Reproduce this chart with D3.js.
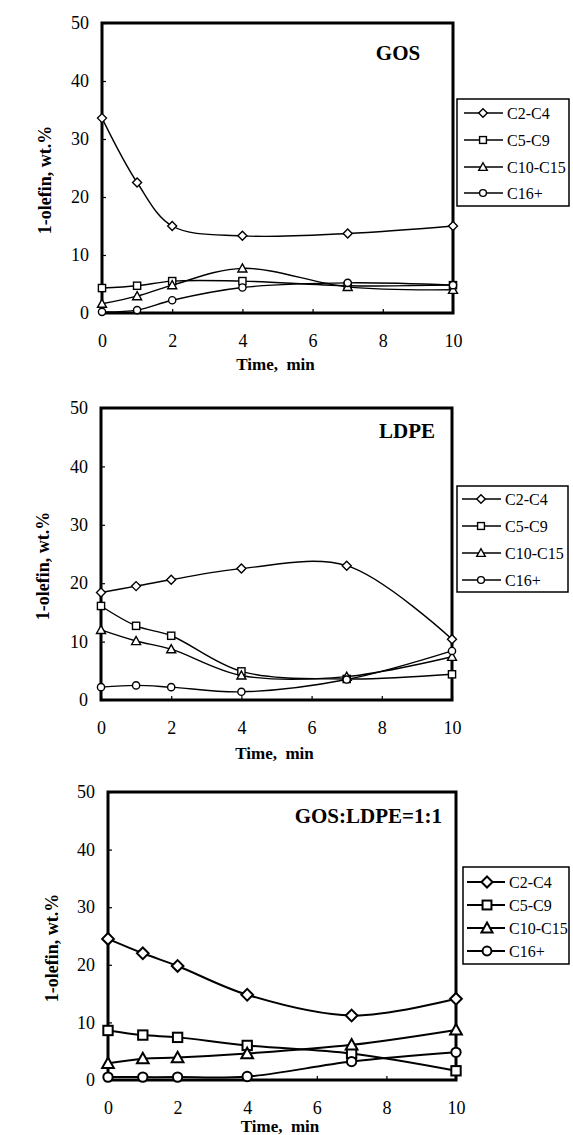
<!DOCTYPE html>
<html>
<head>
<meta charset="utf-8">
<script src="https://cdn.jsdelivr.net/npm/d3@7"></script>
<style>
  body { margin: 0; background: #fff; }
  svg { display: block; }
</style>
</head>
<body>
<div id="chart"></div>
<script>
// x values (minutes) and tick labels
var times = [0, 1, 2, 4, 7, 10]
var xTicks = [0, 2, 4, 6, 8, 10]
var yTicks = [0, 10, 20, 30, 40, 50]
var seriesNames = ["C2-C4", "C5-C9", "C10-C15", "C16+"]
var panelNames = ["GOS", "LDPE", "GOS:LDPE=1:1"]

// wt.% values, one row per series (C2-C4, C5-C9, C10-C15, C16+)
var gosValues = [
  [33.6, 22.5, 15.0, 13.3, 13.7, 15.0],
  [4.3, 4.7, 5.5, 5.5, 4.7, 4.8],
  [1.6, 2.9, 4.8, 7.7, 4.5, 4.0],
  [0.2, 0.5, 2.2, 4.4, 5.2, 4.8]
]
var ldpeValues = [
  [18.4, 19.5, 20.6, 22.5, 23.0, 10.4],
  [16.1, 12.7, 11.0, 4.9, 3.6, 4.4],
  [12.0, 10.1, 8.7, 4.2, 4.0, 7.4],
  [2.2, 2.5, 2.2, 1.4, 3.5, 8.4]
]
var mixValues = [
  [24.5, 22.0, 19.8, 14.8, 11.2, 14.1],
  [8.6, 7.8, 7.4, 6.0, 4.6, 1.6],
  [2.9, 3.7, 3.9, 4.6, 6.1, 8.7],
  [0.5, 0.5, 0.5, 0.6, 3.2, 4.8]
]
var allValues = [gosValues, ldpeValues, mixValues]

var serif = "'Liberation Serif', 'Times New Roman', Times, serif"

// layout for each panel (pixels)
var panels = [
  {left: 102, right: 453, top: 23, bottom: 313, yTitleX: 45, labelX: 398, labelY: 60, anchor: "middle",
   legend: {x: 457, y: 99, w: 112, h: 107, rows: [113, 140, 167, 193], lx: 464, mx: 483, tx: 507},
   lineW: 1.4, ms: 1, xTitleDy: 57},
  {left: 101, right: 452, top: 408, bottom: 700, yTitleX: 43, labelX: 407, labelY: 438, anchor: "middle",
   legend: {x: 457, y: 486, w: 111, h: 106, rows: [499, 526, 553, 580], lx: 462, mx: 481, tx: 505},
   lineW: 1.4, ms: 1, xTitleDy: 59},
  {left: 108, right: 456, top: 792, bottom: 1080, yTitleX: 52, labelX: 442, labelY: 823, anchor: "end",
   legend: {x: 463, y: 867, w: 106, h: 97, rows: [882, 905, 928, 951], lx: 467, mx: 487, tx: 509},
   lineW: 2, ms: 1.3, xTitleDy: 52}
]

var svg = d3.select("#chart")
  .append("svg")
  .attr("width", 573)
  .attr("height", 1135)

// marker shapes in order of the series
var drawMarker = function(g, idx, cx, cy, s)
{
  if (idx == 0) {
    var r = 4.5 * s
    g.append("path")
      .attr("d", "M" + cx + "," + (cy - r) + "L" + (cx + r) + "," + cy + "L" + cx + "," + (cy + r) + "L" + (cx - r) + "," + cy + "Z")
  } else if (idx == 1) {
    var h = 3.6 * s
    g.append("rect").attr("x", cx - h).attr("y", cy - h).attr("width", 2 * h).attr("height", 2 * h)
  } else if (idx == 2) {
    var t = 4.5 * s
    g.append("path")
      .attr("d", "M" + cx + "," + (cy - t) + "L" + (cx + t) + "," + (cy + t * 0.8) + "L" + (cx - t) + "," + (cy + t * 0.8) + "Z")
  } else {
    g.append("circle").attr("cx", cx).attr("cy", cy).attr("r", 3.6 * s)
  }
}

panels.forEach(function(p, pi)
{
  var values = allValues[pi]

  var xScale = d3.scaleLinear().domain([0, 10]).range([p.left, p.right])
  var yScale = d3.scaleLinear().domain([0, 50]).range([p.bottom, p.top])

  var xAxis = d3.axisBottom(xScale).tickValues(xTicks).tickSizeInner(-4).tickSizeOuter(0).tickPadding(21)
  var yAxis = d3.axisLeft(yScale).tickValues(yTicks).tickSizeInner(-4).tickSizeOuter(0).tickPadding(13)

  var gx = svg.append("g")
    .attr("transform", "translate(0," + p.bottom + ")")
    .call(xAxis)
  var gy = svg.append("g")
    .attr("transform", "translate(" + p.left + ",0)")
    .call(yAxis)

  ;[gx, gy].forEach(function(g) {
    g.attr("font-family", null)
    g.select(".domain").remove()
    g.selectAll("line").attr("stroke", "#000").attr("stroke-width", 1.2)
    g.selectAll("text")
      .attr("fill", "#000")
      .style("font-family", serif)
      .style("font-size", "18px")
  })

  // series lines
  var line = d3.line()
    .x(function(d, i) { return xScale(times[i]) })
    .y(function(d) { return yScale(d) })
    .curve(d3.curveCatmullRom.alpha(0.5))

  values.forEach(function(row, si)
  {
    svg.append("path")
      .attr("d", line(row))
      .attr("fill", "none")
      .attr("stroke", "#000")
      .attr("stroke-width", p.lineW)
  })

  // frame
  svg.append("rect")
    .attr("x", p.left)
    .attr("y", p.top)
    .attr("width", p.right - p.left)
    .attr("height", p.bottom - p.top)
    .attr("fill", "none")
    .attr("stroke", "#000")
    .attr("stroke-width", 3)

  // markers
  values.forEach(function(row, si)
  {
    var mg = svg.append("g")
      .attr("fill", "#fff")
      .attr("stroke", "#000")
      .attr("stroke-width", p.lineW)
    row.forEach(function(v, i) {
      drawMarker(mg, si, xScale(times[i]), yScale(v), p.ms)
    })
  })

  // panel label
  svg.append("text")
    .attr("x", p.labelX)
    .attr("y", p.labelY)
    .attr("text-anchor", p.anchor)
    .style("font-family", serif)
    .style("font-size", "21px")
    .style("font-weight", "bold")
    .text(panelNames[pi])

  // axis titles
  svg.append("text")
    .attr("x", (p.left + p.right) / 2 - 2)
    .attr("y", p.bottom + p.xTitleDy)
    .attr("text-anchor", "middle")
    .style("font-family", serif)
    .style("font-size", "17px")
    .style("font-weight", "bold")
    .style("white-space", "pre")
    .text("Time,  min")

  svg.append("text")
    .attr("transform", "translate(" + p.yTitleX + "," + ((p.top + p.bottom) / 2 + 12) + ") rotate(-90)")
    .attr("text-anchor", "middle")
    .attr("dy", "0.35em")
    .style("font-family", serif)
    .style("font-size", "18px")
    .style("font-weight", "bold")
    .text("1-olefin, wt.%")

  // legend
  var L = p.legend
  var lg = svg.append("g")
  lg.append("rect")
    .attr("x", L.x).attr("y", L.y).attr("width", L.w).attr("height", L.h)
    .attr("fill", "#fff").attr("stroke", "#000").attr("stroke-width", 1.5)

  seriesNames.forEach(function(name, si)
  {
    var ry = L.rows[si]
    lg.append("line")
      .attr("x1", L.lx).attr("x2", L.tx - 4)
      .attr("y1", ry).attr("y2", ry)
      .attr("stroke", "#000").attr("stroke-width", p.lineW)
    var mg = lg.append("g").attr("fill", "#fff").attr("stroke", "#000").attr("stroke-width", p.lineW)
    drawMarker(mg, si, L.mx, ry, p.ms * 0.95)
    lg.append("text")
      .attr("x", L.tx)
      .attr("y", ry)
      .attr("dy", "0.35em")
      .style("font-family", serif)
      .style("font-size", "16px")
      .text(name)
  })
})
</script>
</body>
</html>
